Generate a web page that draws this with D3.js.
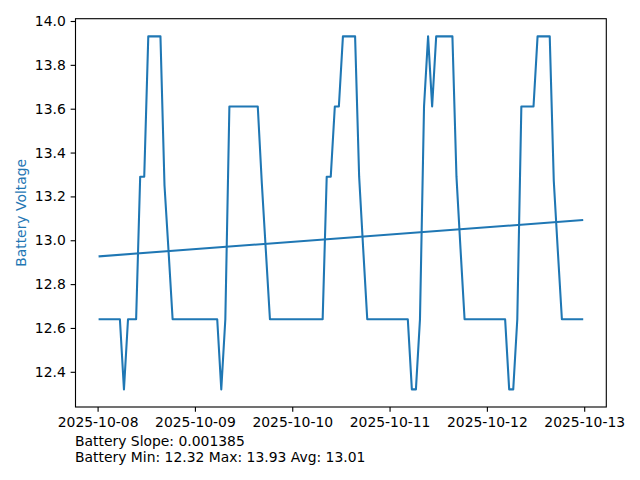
<!DOCTYPE html>
<html>
<head>
<meta charset="utf-8">
<script src="https://cdn.jsdelivr.net/npm/d3@7/dist/d3.min.js"></script>
<style>
  html, body { margin: 0; padding: 0; background: #ffffff; }
  svg { display: block; }
  text { font-family: "DejaVu Sans", sans-serif; }
</style>
</head>
<body>
<svg id="chart" width="640" height="480"></svg>
<script>
// ---- data ----
const startTime = "2025-10-08T00:30:00";   // first sample
const sampleStepHours = 1;                 // hourly samples
const voltage = [
  12.64, 12.64, 12.64, 12.64, 12.64, 12.64, 12.32, 12.64, 12.64, 12.64,
  13.29, 13.29, 13.93, 13.93, 13.93, 13.93, 13.25, 12.95, 12.64, 12.64,
  12.64, 12.64, 12.64, 12.64, 12.64, 12.64, 12.64, 12.64, 12.64, 12.64,
  12.32, 12.64, 13.61, 13.61, 13.61, 13.61, 13.61, 13.61, 13.61, 13.61,
  13.26, 12.95, 12.64, 12.64, 12.64, 12.64, 12.64, 12.64, 12.64, 12.64,
  12.64, 12.64, 12.64, 12.64, 12.64, 12.64, 13.29, 13.29, 13.61, 13.61,
  13.93, 13.93, 13.93, 13.93, 13.29, 12.96, 12.64, 12.64, 12.64, 12.64,
  12.64, 12.64, 12.64, 12.64, 12.64, 12.64, 12.64, 12.32, 12.32, 12.64,
  13.61, 13.93, 13.61, 13.93, 13.93, 13.93, 13.93, 13.93, 13.29, 12.96,
  12.64, 12.64, 12.64, 12.64, 12.64, 12.64, 12.64, 12.64, 12.64, 12.64,
  12.64, 12.32, 12.32, 12.64, 13.61, 13.61, 13.61, 13.61, 13.93, 13.93,
  13.93, 13.93, 13.27, 12.95, 12.64, 12.64, 12.64, 12.64, 12.64, 12.64
];
const trendIntercept = 12.927;   // value of the fit at the first sample
const trendSlope = 0.001385;     // volts per hour
const yTickValues = [12.4, 12.6, 12.8, 13.0, 13.2, 13.4, 13.6, 13.8, 14.0];
const xTickLabels = ["2025-10-08", "2025-10-09", "2025-10-10", "2025-10-11", "2025-10-12", "2025-10-13"];
const yLabel = "Battery Voltage";
const statLines = [
  "Battery Slope: 0.001385",
  "Battery Min: 12.32 Max: 13.93 Avg: 13.01"
];

// ---- build records ----
const t0 = new Date(startTime);
const HOUR = 3600 * 1000;
const records = voltage.map((v, i) => ({ t: new Date(t0.getTime() + i * sampleStepHours * HOUR), v }));
const tEnd = records[records.length - 1].t;
const trend = [
  { t: t0, v: trendIntercept },
  { t: tEnd, v: trendIntercept + trendSlope * (tEnd - t0) / HOUR }
];

// ---- layout ----
const L = 75.5, R = 606.3, T = 18.7, B = 407;
const blue = "#1f77b4";
const fs = 13.9;

const svg = d3.select("#chart");
svg.append("rect").attr("width", 640).attr("height", 480).attr("fill", "#fff");

// scales with matplotlib-like 5% margins
const tMin = +t0, tMax = +tEnd, tPad = (tMax - tMin) * 0.05;
const x = d3.scaleTime().domain([new Date(tMin - tPad), new Date(tMax + tPad)]).range([L, R]);
const vMin = d3.min(voltage), vMax = d3.max(voltage), vPad = (vMax - vMin) * 0.05;
const y = d3.scaleLinear().domain([vMin - vPad, vMax + vPad]).range([B, T]);

// clip
svg.append("clipPath").attr("id", "clip").append("rect")
  .attr("x", L).attr("y", T).attr("width", R - L).attr("height", B - T);

const line = d3.line().x(d => x(d.t)).y(d => y(d.v));
const g = svg.append("g").attr("clip-path", "url(#clip)");
g.append("path").datum(records).attr("d", line)
  .attr("fill", "none").attr("stroke", blue).attr("stroke-width", 2.08)
  .attr("stroke-linejoin", "round").attr("stroke-linecap", "square");
g.append("path").datum(trend).attr("d", line)
  .attr("fill", "none").attr("stroke", blue).attr("stroke-width", 2.08)
  .attr("stroke-linecap", "square");

// axes
const tickLen = 4.86, tickPad = 4.86;
const xAxis = d3.axisBottom(x)
  .tickValues(xTickLabels.map(s => new Date(s + "T00:00:00")))
  .tickFormat((d, i) => xTickLabels[i])
  .tickSize(tickLen).tickPadding(tickPad).tickSizeOuter(0);
const gx = svg.append("g").attr("transform", `translate(0,${B})`).call(xAxis);
const yAxis = d3.axisLeft(y)
  .tickValues(yTickValues)
  .tickFormat(d => d.toFixed(1))
  .tickSize(tickLen).tickPadding(tickPad).tickSizeOuter(0);
const gy = svg.append("g").attr("transform", `translate(${L},0)`).call(yAxis);
[gx, gy].forEach(ax => {
  ax.select(".domain").remove();
  ax.selectAll(".tick line").attr("stroke", "#000").attr("stroke-width", 1.11);
  ax.selectAll(".tick text").attr("fill", "#000").style("font-size", fs + "px")
    .style("font-family", "DejaVu Sans, sans-serif");
});

// frame
svg.append("rect").attr("x", L).attr("y", T).attr("width", R - L).attr("height", B - T)
  .attr("fill", "none").attr("stroke", "#000").attr("stroke-width", 1.11);

// y label
svg.append("text")
  .attr("transform", `translate(25.5,${(T + B) / 2}) rotate(-90)`)
  .attr("text-anchor", "middle")
  .attr("fill", blue).style("font-size", fs + "px")
  .text(yLabel);

// stats text
svg.selectAll("text.stat").data(statLines).enter().append("text")
  .attr("class", "stat")
  .attr("x", 75).attr("y", (d, i) => 446 + i * 16)
  .attr("fill", "#000").style("font-size", fs + "px")
  .text(d => d);
</script>
</body>
</html>
